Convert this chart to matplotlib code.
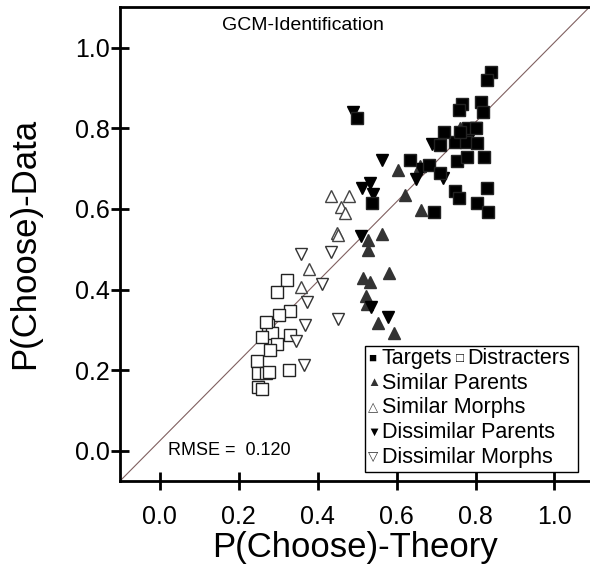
import matplotlib
matplotlib.use('Agg')
import matplotlib.pyplot as plt
from matplotlib.patches import Rectangle

# Targets (filled squares)
tg_x = [0.634, 0.537, 0.683, 0.710, 0.752, 0.779, 0.822, 0.748, 0.759, 0.828,
        0.803, 0.831, 0.695, 0.710, 0.747, 0.777, 0.803,
        0.84, 0.83, 0.815, 0.82, 0.765, 0.757, 0.78, 0.80, 0.72, 0.76, 0.50]
tg_y = [0.721, 0.615, 0.709, 0.688, 0.719, 0.728, 0.728, 0.645, 0.626, 0.652,
        0.615, 0.593, 0.593, 0.758, 0.767, 0.767, 0.763,
        0.94, 0.92, 0.865, 0.84, 0.86, 0.845, 0.80, 0.80, 0.79, 0.79, 0.825]

# Distracters (open squares)
ds_x = [0.321, 0.296, 0.330, 0.302, 0.275, 0.283, 0.258, 0.330, 0.297, 0.279,
        0.245, 0.249, 0.270, 0.277, 0.327, 0.249, 0.260, 0.270]
ds_y = [0.423, 0.394, 0.347, 0.336, 0.312, 0.293, 0.281, 0.287, 0.266, 0.250,
        0.222, 0.192, 0.193, 0.196, 0.201, 0.159, 0.152, 0.320]

# Similar Parents (filled up triangles)
sp_x = [0.604, 0.621, 0.562, 0.528, 0.528, 0.581, 0.515, 0.532, 0.522, 0.524,
        0.552, 0.593, 0.659, 0.662, 0.76]
sp_y = [0.696, 0.634, 0.537, 0.523, 0.498, 0.441, 0.428, 0.419, 0.384, 0.364,
        0.317, 0.293, 0.707, 0.597, 0.80]

# Similar Morphs (open up triangles)
sm_x = [0.433, 0.479, 0.459, 0.469, 0.450, 0.452, 0.378, 0.357]
sm_y = [0.632, 0.632, 0.605, 0.589, 0.539, 0.535, 0.450, 0.407]

# Dissimilar Parents (filled down triangles)
dp_x = [0.562, 0.511, 0.532, 0.541, 0.509, 0.534, 0.579, 0.663, 0.649, 0.718,
        0.80, 0.78, 0.69, 0.49]
dp_y = [0.721, 0.653, 0.663, 0.638, 0.533, 0.357, 0.332, 0.698, 0.673, 0.676,
        0.80, 0.77, 0.76, 0.84]

# Dissimilar Morphs (open down triangles)
dm_x = [0.357, 0.433, 0.410, 0.372, 0.368, 0.452, 0.345, 0.365]
dm_y = [0.488, 0.494, 0.413, 0.369, 0.312, 0.326, 0.273, 0.212]

xlim = (-0.101, 1.090)
ylim = (-0.075, 1.102)

plt.rcParams['font.family'] = ['Liberation Sans', 'DejaVu Sans']

fig = plt.figure(figsize=(5.9, 5.72), dpi=100)
ax = fig.add_axes([120/590, 91/572, 470/590, 474.5/572])

ax.plot(xlim, ylim, color='#806060', lw=0.8, zorder=1)

ms = 8
ax.plot(ds_x, ds_y, 's', ms=ms, mfc='white', mec='#222222', mew=1.0, ls='none')
ax.plot(dm_x, dm_y, 'v', ms=ms, mfc='white', mec='#333333', mew=1.0, ls='none')
ax.plot(sm_x, sm_y, '^', ms=ms, mfc='white', mec='#444444', mew=1.0, ls='none')
ax.plot(sp_x, sp_y, '^', ms=ms, mfc='#333333', mec='#333333', ls='none')
ax.plot(dp_x, dp_y, 'v', ms=ms, mfc='black', mec='black', ls='none')
ax.plot(tg_x, tg_y, 's', ms=ms, mfc='black', mec='#222222', ls='none')

ax.set_xlim(xlim)
ax.set_ylim(ylim)
ax.set_xticks([0.0, 0.2, 0.4, 0.6, 0.8, 1.0])
ax.set_yticks([0.0, 0.2, 0.4, 0.6, 0.8, 1.0])
ax.xaxis.set_major_formatter(plt.FormatStrFormatter('%.1f'))
ax.yaxis.set_major_formatter(plt.FormatStrFormatter('%.1f'))
ax.tick_params(direction='inout', length=13, width=2, labelsize=18)
ax.tick_params(axis='x', pad=11)
ax.tick_params(axis='y', pad=1)
for s in ['left', 'top', 'bottom']:
    ax.spines[s].set_linewidth(2)
ax.spines['right'].set_visible(False)

ax.set_xlabel('P(Choose)-Theory', fontsize=25, labelpad=1)
ax.set_ylabel('P(Choose)-Data', fontsize=25, labelpad=24)

ax.text(0.217, 0.978, 'GCM-Identification', transform=ax.transAxes,
        fontsize=14, va='top')
ax.text(0.02, 0.0, 'RMSE =  0.120', fontsize=13, va='center')

# legend box
ax.add_patch(Rectangle((0.521, 0.02), 0.453, 0.265, transform=ax.transAxes,
                       fc='white', ec='black', lw=1, zorder=5))
rows = [('■', 'black', 'Targets'), ('▲', '#333333', 'Similar Parents'),
        ('△', '#444444', 'Similar Morphs'), ('▼', 'black', 'Dissimilar Parents'),
        ('▽', '#333333', 'Dissimilar Morphs')]
for i, (sym, col, lab) in enumerate(rows):
    yy = 0.258 - i * 0.052
    ax.text(0.527, yy, sym, color=col, fontsize=9.5, va='center',
            transform=ax.transAxes, zorder=6)
    ax.text(0.557, yy, lab, fontsize=15.5, va='center',
            transform=ax.transAxes, zorder=6)
ax.text(0.714, 0.258, '□', fontsize=9.5, va='center', transform=ax.transAxes,
        zorder=6)
ax.text(0.738, 0.258, 'Distracters', fontsize=15.5, va='center',
        transform=ax.transAxes, zorder=6)

fig.savefig('out.png', dpi=100)
